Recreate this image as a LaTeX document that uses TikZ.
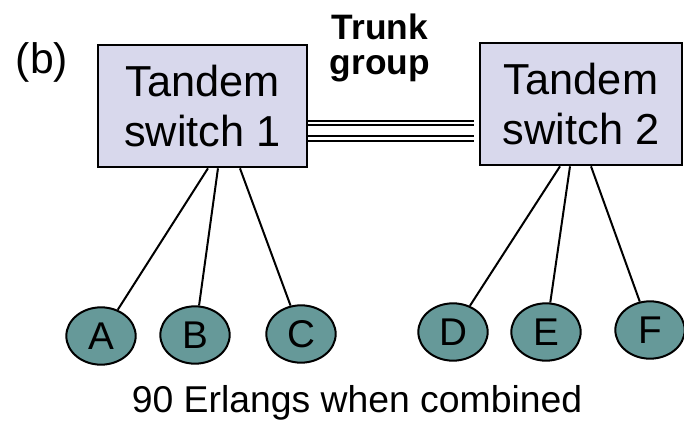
\documentclass[tikz,border=0pt]{standalone}
\usepackage{fontspec}
\setmainfont{Liberation Sans}
\usetikzlibrary{shapes.geometric}
\definecolor{switchfill}{RGB}{216, 216, 236}
\definecolor{stationfill}{RGB}{102, 153, 153}

\begin{document}
\begin{tikzpicture}[x=0.75pt, y=-0.75pt,
    switchbox/.style={draw=black, line width=2pt, fill=switchfill, align=center,
                      minimum height=91.5pt, inner sep=0pt,
                      font=\fontsize{32.5}{37.5}\selectfont},
    station/.style={ellipse, draw=black, line width=1.5pt, fill=stationfill,
                    minimum width=52pt, minimum height=43pt, inner sep=0pt,
                    font=\fontsize{29}{30}\selectfont},
    tieline/.style={line width=1.5pt},
    trunkline/.style={line width=1.3pt, shorten >=3.5pt}]
        \useasboundingbox (0,0) rectangle (684,427);
        % Label
        \node[font=\fontsize{32}{34}\selectfont] (tag) at (42,62) {(b)};
        % Switches
        \node[switchbox, minimum width=156.75pt] (sw1) at (202.5,106) {Tandem\\switch 1};
        \node[switchbox, minimum width=151.5pt] (sw2) at (581,104) {Tandem\\switch 2};
        % Trunk group
        \node[font=\bfseries\fontsize{26.5}{26.5}\selectfont, align=center] (trunk)
              at (380,48) {Trunk\\group};
        \foreach \dy [count=\i] in {11, 14.5, 22.5, 26.5} {
            \coordinate (tk\i) at ([yshift=-\dy pt]sw1.east);
            \draw[trunkline] (tk\i) -- (tk\i -| sw2.west);
        }
        % Stations
        \node[station] (a) at (101,336) {A};
        \node[station] (b) at (195,335) {B};
        \node[station] (c) at (301,334) {C};
        \node[station] (d) at (453,332) {D};
        \node[station] (e) at (546,332) {E};
        \node[station] (f) at (650,330) {F};
        \draw[tieline] ([xshift=4.1pt]sw1.south) -- (a);
        \draw[tieline] ([xshift=11.6pt]sw1.south) -- (b);
        \draw[tieline] ([xshift=28.1pt]sw1.south) -- (c);
        \draw[tieline] ([xshift=-15.75pt]sw2.south) -- (d);
        \draw[tieline] ([xshift=-8.25pt]sw2.south) -- (e);
        \draw[tieline] ([xshift=7.5pt]sw2.south) -- (f);
        % Caption
        \node[font=\fontsize{28}{30}\selectfont] (load) at (357,402.5)
              {90 Erlangs when combined};
      \end{tikzpicture}
\end{document}
